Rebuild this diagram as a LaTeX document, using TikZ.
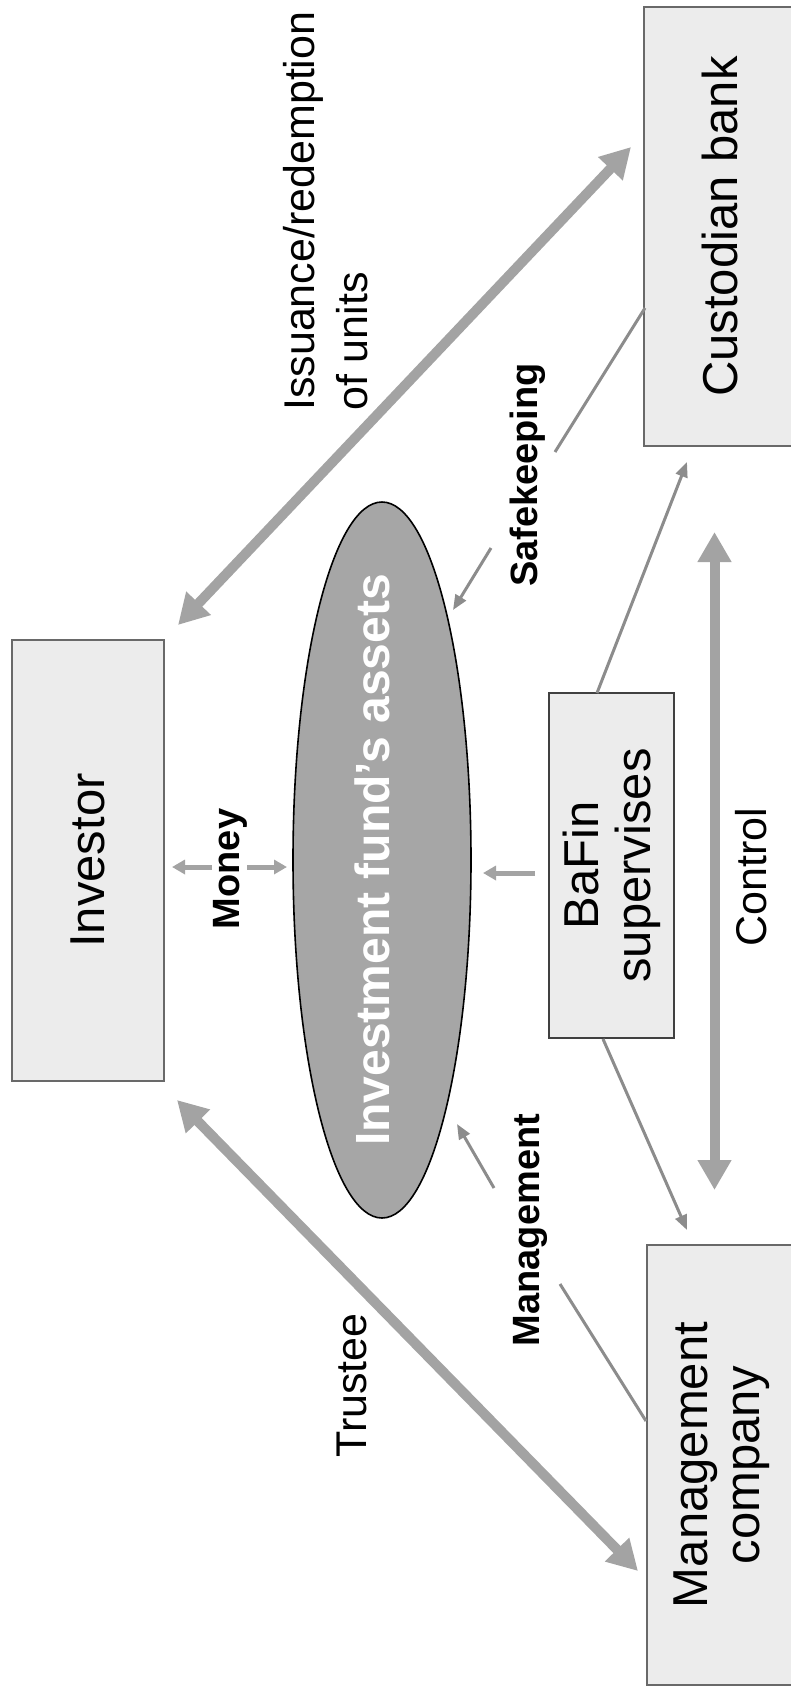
\documentclass[tikz,border=0pt]{standalone}
\usepackage{fontspec}
\setmainfont{Liberation Sans}
\usetikzlibrary{arrows.meta,shapes.geometric}
\definecolor{boxfill}{RGB}{236,236,236}
\definecolor{boxline}{RGB}{105,105,105}
\definecolor{arrowgray}{RGB}{163,163,163}
\definecolor{thingray}{RGB}{140,140,140}
\definecolor{ellfill}{RGB}{166,166,166}
\begin{document}
\begin{tikzpicture}[x=1pt,y=-1pt,
  box/.style={draw=boxline, line width=1.4pt, fill=boxfill, rectangle, rotate=90,
    inner sep=0pt, align=center, font=\fontsize{49}{52}\selectfont},
  lbl/.style={rotate=90, font=\fontsize{43}{53}\selectfont, inner sep=0pt},
  blbl/.style={rotate=90, font=\bfseries\fontsize{38}{46}\selectfont, inner sep=0pt},
  bigarrow/.style={draw=arrowgray, line width=10pt,
    {Triangle[length=30pt,width=32pt]}-{Triangle[length=30pt,width=32pt]}},
  thinline/.style={draw=thingray, line width=3pt},
  thinarrow/.style={thinline, -{Triangle[length=15pt,width=12pt]}},
  smallarrow/.style={draw=arrowgray, line width=5pt, -{Triangle[length=13pt,width=14pt]}},
]
\useasboundingbox (0,0) rectangle (791,1689);
\clip (0,0) rectangle (791,1689);

% boxes
\node[box, minimum width=439pt, minimum height=152pt] (custodian) at (720,226.5) {Custodian bank};
\node[box, minimum width=441pt, minimum height=152pt] (investor) at (88,860.5) {Investor};
\node[box, minimum width=440pt, minimum height=150pt] (mgmt) at (722,1465) {Management\\company};
\node[box, draw=black!75, minimum width=345pt, minimum height=125pt] (bafin) at (611.5,865.5) {BaFin\\supervises};

% ellipse
\node[ellipse, draw=black, line width=1.6pt, fill=ellfill, inner sep=0pt,
  minimum width=178pt, minimum height=716pt] (assets) at (382,860) {};
\node[rotate=90, inner sep=0pt, text=white, font=\bfseries\fontsize{48}{52}\selectfont]
  (assetstext) at (372,860) {Investment fund’s assets};

% labels
\node[lbl, align=left, anchor=south west] (issue) at (368,411) {Issuance/redemption\\of units};
\node[blbl] (safe) at (528,475) {Safekeeping};
\node[blbl] (money) at (230.5,869) {Money};
\node[blbl] (mgmtlbl) at (530,1230) {Management};
\node[lbl] (trustee) at (351.5,1385.5) {Trustee};
\node[lbl] (control) at (751.5,877) {Control};

% connector end points
\coordinate (iss-a) at (178,625);
\coordinate (iss-b) at (631,147);
\coordinate (tr-a) at (177,1100);
\coordinate (tr-b) at (638,1571);
\coordinate (ct-a) at (714.5,532);
\coordinate (ct-b) at (714.5,1190);
\coordinate (sk-a) at (645,308);
\coordinate (sk-b) at (555,452);
\coordinate (sk-c) at (491,548);
\coordinate (sk-d) at (453,610);
\coordinate (mg-a) at (646,1421);
\coordinate (mg-b) at (560,1284);
\coordinate (mg-c) at (494,1188);
\coordinate (mg-d) at (457,1124);
\coordinate (bc-a) at (597,693);
\coordinate (bc-b) at (687,462);
\coordinate (bm-a) at (603,1039);
\coordinate (bm-b) at (687,1230);
\coordinate (be-a) at (535,873);
\coordinate (be-b) at (483,873);
\coordinate (mo-a) at (212,867);
\coordinate (mo-b) at (172,867);
\coordinate (mo-c) at (247,867);
\coordinate (mo-d) at (287,867);

% connectors
\draw[bigarrow] (iss-a) -- (iss-b);
\draw[bigarrow] (tr-a) -- (tr-b);
\draw[bigarrow] (ct-a) -- (ct-b);
\draw[thinline] (sk-a) -- (sk-b);
\draw[thinarrow] (sk-c) -- (sk-d);
\draw[thinline] (mg-a) -- (mg-b);
\draw[thinarrow] (mg-c) -- (mg-d);
\draw[thinarrow] (bc-a) -- (bc-b);
\draw[thinarrow] (bm-a) -- (bm-b);
\draw[smallarrow] (be-a) -- (be-b);
\draw[smallarrow] (mo-a) -- (mo-b);
\draw[smallarrow] (mo-c) -- (mo-d);
\end{tikzpicture}
\end{document}
